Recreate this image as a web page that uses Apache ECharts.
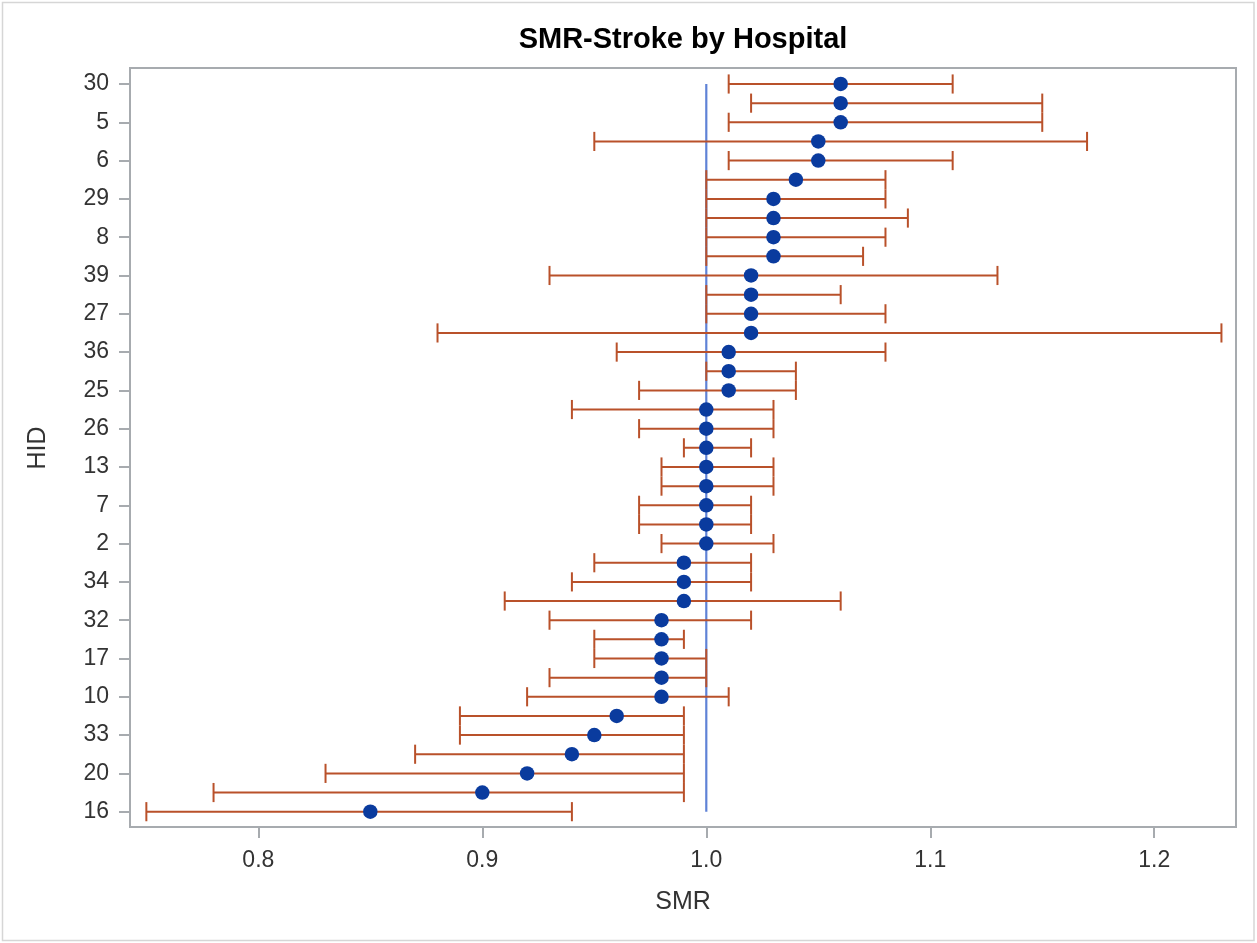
<!DOCTYPE html>
<html><head><meta charset="utf-8">
<script src="https://cdn.jsdelivr.net/npm/echarts@6.0.0/dist/echarts.min.js"></script>
<style>html,body{margin:0;padding:0;background:#fff}#c{width:1257px;height:943px}</style>
</head><body><div id="c"></div>
<script>
const hid = [30,1,5,3,6,4,29,9,8,11,39,12,27,14,36,15,25,18,26,19,13,21,7,22,2,23,34,24,32,28,17,31,10,35,33,37,20,38,16];
const smr = [1.06,1.06,1.06,1.05,1.05,1.04,1.03,1.03,1.03,1.03,1.02,1.02,1.02,1.02,1.01,1.01,1.01,1.00,1.00,1.00,1.00,1.00,1.00,1.00,1.00,0.99,0.99,0.99,0.98,0.98,0.98,0.98,0.98,0.96,0.95,0.94,0.92,0.90,0.85];
const lower = [1.01,1.02,1.01,0.95,1.01,1.00,1.00,1.00,1.00,1.00,0.93,1.00,1.00,0.88,0.96,1.00,0.97,0.94,0.97,0.99,0.98,0.98,0.97,0.97,0.98,0.95,0.94,0.91,0.93,0.95,0.95,0.93,0.92,0.89,0.89,0.87,0.83,0.78,0.75];
const upper = [1.11,1.15,1.15,1.17,1.11,1.08,1.08,1.09,1.08,1.07,1.13,1.06,1.08,1.23,1.08,1.04,1.04,1.03,1.03,1.02,1.03,1.03,1.02,1.02,1.03,1.02,1.02,1.06,1.02,0.99,1.00,1.00,1.01,0.99,0.99,0.99,0.99,0.99,0.94];
const xTicks = [0.8, 0.9, 1.0, 1.1, 1.2];
const refValue = 1.0;
const titleText = 'SMR-Stroke by Hospital';
const xName = 'SMR';
const yName = 'HID';

const FONT = '"Liberation Sans", Arial, sans-serif';
const rows = hid.map((h, i) => i);
const yTicks = rows.filter(i => i % 2 === 0);
const axisGray = '#a7abaf';

const chart = echarts.init(document.getElementById('c'), null, {renderer: 'canvas'});
chart.setOption({
  animation: false,
  backgroundColor: '#fff',
  grid: {left: 130, right: 21, top: 68, bottom: 116, show: true, borderColor: axisGray, borderWidth: 2, backgroundColor: 'transparent'},
  xAxis: {
    type: 'value', min: 0.7427, max: 1.2365,
    axisLine: {show: true, onZero: false, lineStyle: {color: axisGray, width: 2}},
    axisTick: {show: true, length: 11, lineStyle: {color: axisGray, width: 2}, customValues: xTicks},
    axisLabel: {customValues: xTicks, formatter: v => Number(v).toFixed(1), fontSize: 23, color: '#333', fontFamily: FONT, margin: 22},
    splitLine: {show: false}
  },
  yAxis: {
    type: 'value', inverse: true, min: -0.835, max: 38.8,
    axisLine: {show: true, onZero: false, lineStyle: {color: axisGray, width: 2}},
    axisTick: {show: true, length: 11, lineStyle: {color: axisGray, width: 2}, customValues: yTicks},
    axisLabel: {customValues: yTicks, formatter: v => String(hid[Math.round(v)]), fontSize: 23, color: '#333', fontFamily: FONT, margin: 21},
    splitLine: {show: false}
  },
  graphic: [
    {type: 'rect', shape: {x: 2.5, y: 2.5, width: 1251.5, height: 938}, style: {fill: null, stroke: '#d6d6d6', lineWidth: 1.5}, silent: true},
    {type: 'text', x: 683, y: 40, style: {text: titleText, font: 'bold 29px ' + FONT, fill: '#000', textAlign: 'center', textVerticalAlign: 'middle'}},
    {type: 'text', x: 683, y: 902, style: {text: xName, font: '25px ' + FONT, fill: '#333', textAlign: 'center', textVerticalAlign: 'middle'}},
    {type: 'text', x: 38, y: 448, rotation: Math.PI / 2, style: {text: yName, font: '25px ' + FONT, fill: '#333', textAlign: 'center', textVerticalAlign: 'middle'}}
  ],
  series: [
    {
      type: 'line', data: [[refValue, 0], [refValue, hid.length - 1]], symbol: 'none', silent: true,
      lineStyle: {color: '#5f82d6', width: 2.2}, z: 1
    },
    {
      type: 'custom', z: 2, silent: true,
      data: rows.map(i => [lower[i], upper[i], i]),
      renderItem: function (params, api) {
        const lo = api.coord([api.value(0), api.value(2)]);
        const hi = api.coord([api.value(1), api.value(2)]);
        const h = api.size([0, 1])[1] * 0.5;
        const st = {stroke: '#b9512a', lineWidth: 2};
        return {type: 'group', children: [
          {type: 'line', shape: {x1: lo[0], y1: lo[1], x2: hi[0], y2: hi[1]}, style: st},
          {type: 'line', shape: {x1: lo[0], y1: lo[1] - h, x2: lo[0], y2: lo[1] + h}, style: st},
          {type: 'line', shape: {x1: hi[0], y1: hi[1] - h, x2: hi[0], y2: hi[1] + h}, style: st}
        ]};
      }
    },
    {
      type: 'scatter', z: 3, symbol: 'circle', symbolSize: 14.5,
      data: rows.map(i => [smr[i], i]),
      itemStyle: {color: '#0a3b9e', opacity: 1}
    }
  ]
});
</script></body></html>
